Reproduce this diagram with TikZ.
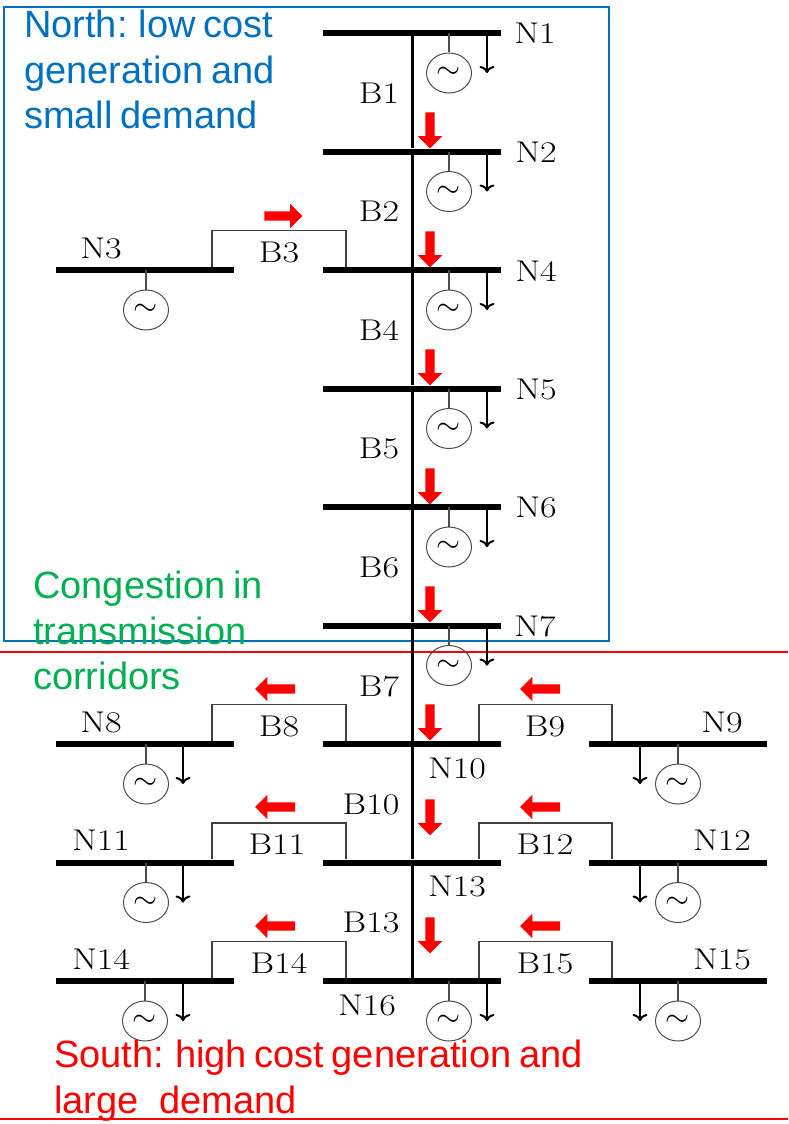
\documentclass[tikz,border=0pt]{standalone}
\usepackage{fontspec}
\newfontfamily\notefont[WordSpace=0.72]{Liberation Sans}
\usetikzlibrary{arrows.meta,shapes.geometric,shapes.arrows}
\definecolor{northblue}{RGB}{0,112,192}
\definecolor{congestgreen}{RGB}{0,176,80}
\newcommand{\acsign}{\raisebox{-2.5pt}{\scalebox{3.1}{$\sim$}}}
\begin{document}
\begin{tikzpicture}[x=1pt,y=-1pt,node distance=118.5pt,
bus/.style={rectangle,fill=black,inner sep=0pt,minimum width=178pt,minimum height=6pt},
gen/.style={ellipse,draw=black!70,line width=1pt,inner sep=0pt,minimum width=45pt,minimum height=40pt},
stem/.style={draw=black!70,line width=1.4pt},
load/.style={-{Computer Modern Rightarrow[width=15pt,length=7pt]},line width=2pt},
trunk/.style={line width=3pt},
link/.style={draw=black!75,line width=1.5pt},
tag/.style={inner sep=0pt,transform shape,xscale=1.2,font=\fontsize{30}{30}\selectfont},
flow/.style={single arrow,fill=red,inner sep=4.5pt,single arrow head extend=7.5pt,single arrow tip angle=90,single arrow head indent=0pt,minimum height=36pt},
west flow/.style={flow,rotate=180,minimum height=40pt},
note/.style={anchor=north west,align=left,inner sep=0pt,font=\notefont\fontsize{38}{45.5}\selectfont}]
\useasboundingbox (0,0) rectangle (788,1124);
\node[draw=northblue,line width=2pt,inner sep=0pt,minimum width=605pt,minimum height=634pt] (north) at (306.5,324) {};
\coordinate (redA) at (0,652);
\coordinate (redB) at (788,652);
\coordinate (redC) at (0,1119);
\coordinate (redD) at (788,1119);
\draw[red,line width=1.6pt] (redA) -- (redB);
\draw[red,line width=2pt] (redC) -- (redD);
\node[bus] (N1) at (412,33) {};
\node[bus] (N2) [below of=N1] {};
\node[bus] (N4) [below of=N2] {};
\node[bus] (N5) [below of=N4] {};
\node[bus] (N6) [below of=N5] {};
\node[bus] (N7) [below of=N6] {};
\node[bus] (N10) [below of=N7] {};
\node[bus] (N13) [below of=N10] {};
\node[bus] (N16) [below of=N13] {};
\node[bus] (N3) [left of=N4,node distance=267pt] {};
\node[bus] (N8) [left of=N10,node distance=267pt] {};
\node[bus] (N11) [left of=N13,node distance=267pt] {};
\node[bus] (N14) [left of=N16,node distance=267pt] {};
\node[bus] (N9) [right of=N10,node distance=266pt] {};
\node[bus] (N12) [right of=N13,node distance=266pt] {};
\node[bus] (N15) [right of=N16,node distance=266pt] {};
\draw[trunk] (N1) -- (N2);
\draw[trunk] (N2) -- (N4);
\draw[trunk] (N4) -- (N5);
\draw[trunk] (N5) -- (N6);
\draw[trunk] (N6) -- (N7);
\draw[trunk] (N7) -- (N10);
\draw[trunk] (N10) -- (N13);
\draw[trunk] (N13) -- (N16);
\draw[link] ([xshift=67pt]N3.north) -- ++(0,-36.5) -| ([xshift=-66pt]N4.north);
\draw[link] ([xshift=67pt]N8.north) -- ++(0,-36.5) -| ([xshift=-66pt]N10.north);
\draw[link] ([xshift=67pt]N11.north) -- ++(0,-36.5) -| ([xshift=-66pt]N13.north);
\draw[link] ([xshift=67pt]N14.north) -- ++(0,-36.5) -| ([xshift=-66pt]N16.north);
\draw[link] ([xshift=67pt]N10.north) -- ++(0,-36.5) -| ([xshift=-66pt]N9.north);
\draw[link] ([xshift=67pt]N13.north) -- ++(0,-36.5) -| ([xshift=-66pt]N12.north);
\draw[link] ([xshift=67pt]N16.north) -- ++(0,-36.5) -| ([xshift=-66pt]N15.north);
\node[gen] (G1) at ([xshift=37pt,yshift=-40pt]N1) {\acsign};
\node[gen] (G2) at ([xshift=37pt,yshift=-40pt]N2) {\acsign};
\node[gen] (G3) at ([xshift=1pt,yshift=-40pt]N3) {\acsign};
\node[gen] (G4) at ([xshift=37pt,yshift=-40pt]N4) {\acsign};
\node[gen] (G5) at ([xshift=37pt,yshift=-40pt]N5) {\acsign};
\node[gen] (G6) at ([xshift=37pt,yshift=-40pt]N6) {\acsign};
\node[gen] (G7) at ([xshift=37pt,yshift=-40pt]N7) {\acsign};
\node[gen] (G8) at ([xshift=1pt,yshift=-40pt]N8) {\acsign};
\node[gen] (G9) at ([xshift=0pt,yshift=-40pt]N9) {\acsign};
\node[gen] (G11) at ([xshift=1pt,yshift=-40pt]N11) {\acsign};
\node[gen] (G12) at ([xshift=0pt,yshift=-40pt]N12) {\acsign};
\node[gen] (G14) at ([xshift=0pt,yshift=-40pt]N14) {\acsign};
\node[gen] (G15) at ([xshift=0pt,yshift=-40pt]N15) {\acsign};
\node[gen] (G16) at ([xshift=37pt,yshift=-40pt]N16) {\acsign};
\draw[stem] (N1 -| G1) -- (G1);
\draw[stem] (N2 -| G2) -- (G2);
\draw[stem] (N3 -| G3) -- (G3);
\draw[stem] (N4 -| G4) -- (G4);
\draw[stem] (N5 -| G5) -- (G5);
\draw[stem] (N6 -| G6) -- (G6);
\draw[stem] (N7 -| G7) -- (G7);
\draw[stem] (N8 -| G8) -- (G8);
\draw[stem] (N9 -| G9) -- (G9);
\draw[stem] (N11 -| G11) -- (G11);
\draw[stem] (N12 -| G12) -- (G12);
\draw[stem] (N14 -| G14) -- (G14);
\draw[stem] (N15 -| G15) -- (G15);
\draw[stem] (N16 -| G16) -- (G16);
\coordinate (L1) at ([xshift=75pt,yshift=-40pt]N1);
\coordinate (L2) at ([xshift=75pt,yshift=-40pt]N2);
\coordinate (L4) at ([xshift=75pt,yshift=-40pt]N4);
\coordinate (L5) at ([xshift=75pt,yshift=-40pt]N5);
\coordinate (L6) at ([xshift=75pt,yshift=-40pt]N6);
\coordinate (L7) at ([xshift=75pt,yshift=-40pt]N7);
\coordinate (L8) at ([xshift=38pt,yshift=-40pt]N8);
\coordinate (L9) at ([xshift=-38pt,yshift=-40pt]N9);
\coordinate (L11) at ([xshift=38pt,yshift=-40pt]N11);
\coordinate (L12) at ([xshift=-38pt,yshift=-40pt]N12);
\coordinate (L14) at ([xshift=38pt,yshift=-40pt]N14);
\coordinate (L15) at ([xshift=-38pt,yshift=-40pt]N15);
\coordinate (L16) at ([xshift=75pt,yshift=-40pt]N16);
\draw[load] (N1 -| L1) -- (L1);
\draw[load] (N2 -| L2) -- (L2);
\draw[load] (N4 -| L4) -- (L4);
\draw[load] (N5 -| L5) -- (L5);
\draw[load] (N6 -| L6) -- (L6);
\draw[load] (N7 -| L7) -- (L7);
\draw[load] (N8 -| L8) -- (L8);
\draw[load] (N9 -| L9) -- (L9);
\draw[load] (N11 -| L11) -- (L11);
\draw[load] (N12 -| L12) -- (L12);
\draw[load] (N14 -| L14) -- (L14);
\draw[load] (N15 -| L15) -- (L15);
\draw[load] (N16 -| L16) -- (L16);
\node[tag] (tN1) at (535,33) {N1};
\node[tag] (tN2) at (536,152) {N2};
\node[tag] (tN3) at (101,248) {N3};
\node[tag] (tN4) at (536,271) {N4};
\node[tag] (tN5) at (536,389) {N5};
\node[tag] (tN6) at (536,507) {N6};
\node[tag] (tN7) at (535,626) {N7};
\node[tag] (tN8) at (101,722) {N8};
\node[tag] (tN9) at (722,722) {N9};
\node[tag] (tN10) at (457,768) {N10};
\node[tag] (tN11) at (101,840) {N11};
\node[tag] (tN12) at (722,840) {N12};
\node[tag] (tN13) at (457,886) {N13};
\node[tag] (tN14) at (101,959) {N14};
\node[tag] (tN15) at (722,959) {N15};
\node[tag] (tN16) at (367,1005) {N16};
\node[tag] (B1) at (379,93) {B1};
\node[tag] (B2) at (379,211) {B2};
\node[tag] (B3) at (279,252) {B3};
\node[tag] (B4) at (379,330) {B4};
\node[tag] (B5) at (379,448) {B5};
\node[tag] (B6) at (379,567) {B6};
\node[tag] (B7) at (379,686) {B7};
\node[tag] (B8) at (279,726) {B8};
\node[tag] (B9) at (545,726) {B9};
\node[tag] (B10) at (371,804) {B10};
\node[tag] (B11) at (277,844) {B11};
\node[tag] (B12) at (545,844) {B12};
\node[tag] (B13) at (371,922) {B13};
\node[tag] (B14) at (279,963) {B14};
\node[tag] (B15) at (545,963) {B15};
\node[flow,rotate=-90] (F1) at (430,128) {};
\node[flow,rotate=-90] (F2) at (430,247) {};
\node[flow,rotate=-90] (F4) at (430,365) {};
\node[flow,rotate=-90] (F5) at (430,484) {};
\node[flow,rotate=-90] (F6) at (430,602) {};
\node[flow,rotate=-90] (F7) at (430,720) {};
\node[flow,rotate=-90] (F10) at (430,815) {};
\node[flow,rotate=-90] (F13) at (430,933) {};
\node[flow,minimum height=38pt] (F3) at (281,216) {};
\node[west flow] (F8) at (277.5,689) {};
\node[west flow] (F9) at (542.5,689) {};
\node[west flow] (F11) at (277.5,807) {};
\node[west flow] (F12) at (542.5,807) {};
\node[west flow] (F14) at (277.5,926) {};
\node[west flow] (F15) at (542.5,926) {};
\node[note,text=northblue] (northtext) at (24,10) {North: low cost\\generation and\\small demand};
\node[note,text=congestgreen] (congest) at (33,571) {Congestion in\\transmission\\corridors};
\node[note,text=red] (southtext) at (54,1040) {South: high cost generation and\\large\hspace{21pt}demand};
\end{tikzpicture}
\end{document}
